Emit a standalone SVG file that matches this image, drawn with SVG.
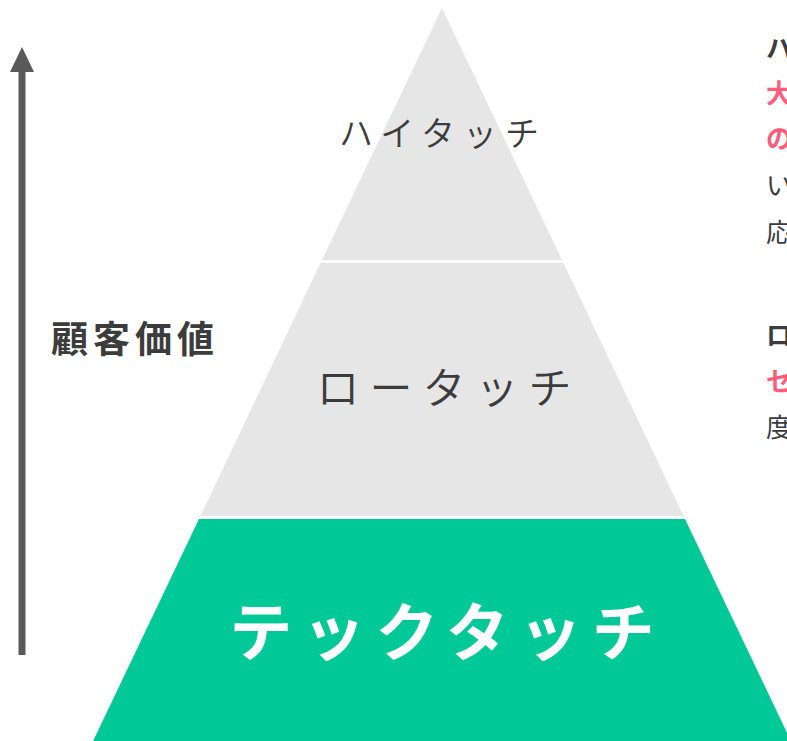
<svg xmlns="http://www.w3.org/2000/svg" width="787" height="741" viewBox="0 0 787 741">
<style>
.jp{font-family:"Noto Sans CJK JP","Noto Sans CJK SC",sans-serif}
.lvl{fill:#3c3c3c;font-weight:350;text-anchor:middle}
.side{font-size:26px;fill:#3c3c3c}
.b{font-weight:bold}
.pk{fill:#ff5c7c;font-weight:bold}
</style>
<rect width="787" height="741" fill="#ffffff"/>
<g id="arrow">
<rect x="18.5" y="70" width="7" height="585" fill="#595959"/>
<polygon points="22,47 34,72 10,72" fill="#595959"/>
</g>
<g id="value-label">
<text class="jp b" x="51" y="353" font-size="37" fill="#3c3c3c" letter-spacing="5">顧客価値</text>
</g>
<g id="high-touch">
<polygon points="442,8 562,260 322,260" fill="#e6e6e6"/>
<text class="jp lvl" x="443" y="146" font-size="34" letter-spacing="8">ハイタッチ</text>
</g>
<g id="low-touch">
<polygon points="320.5,263 563.5,263 683.5,516 200.5,516" fill="#e6e6e6"/>
<text class="jp lvl" x="449" y="404" font-size="43" letter-spacing="10">ロータッチ</text>
</g>
<g id="tech-touch">
<polygon points="199,519 685,519 800,760 84,760" fill="#00c896"/>
<text class="jp b" x="447" y="655" font-size="63" fill="#ffffff" text-anchor="middle" letter-spacing="10">テックタッチ</text>
</g>
<g id="side-notes">
<text class="jp side b" x="766" y="58">ハ</text>
<text class="jp side pk" x="766" y="103">大</text>
<text class="jp side pk" x="766" y="148">の</text>
<text class="jp side" x="766" y="195">い</text>
<text class="jp side" x="766" y="242">応</text>
<text class="jp side b" x="766" y="345">ロ</text>
<text class="jp side pk" x="766" y="391">セ</text>
<text class="jp side" x="766" y="437">度</text>
</g>
</svg>
